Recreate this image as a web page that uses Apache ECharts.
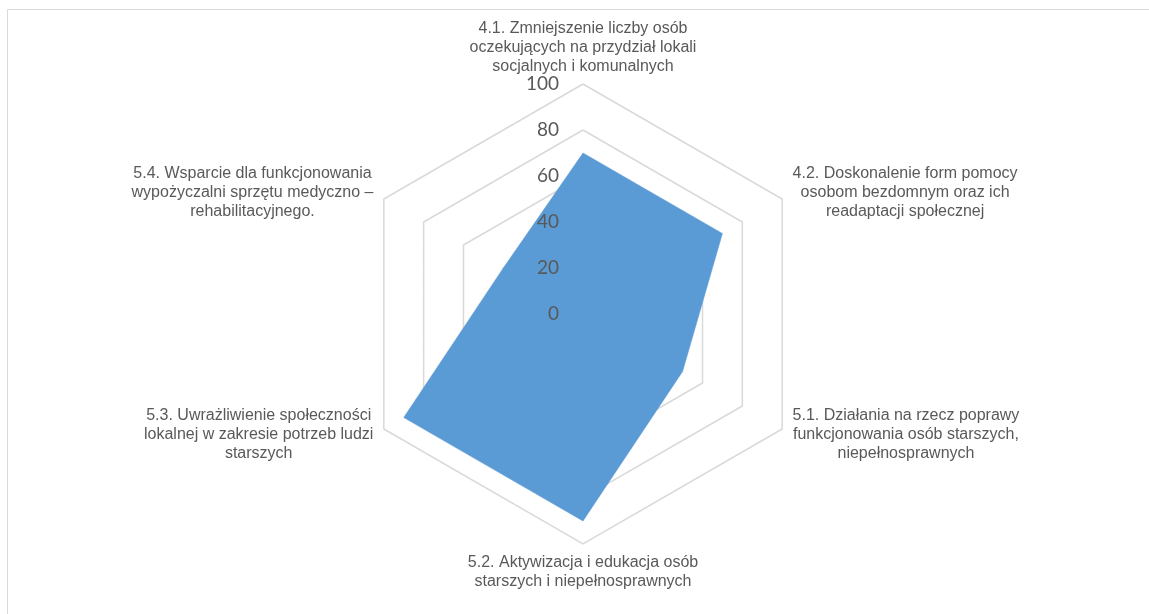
<!DOCTYPE html>
<html>
<head>
<meta charset="utf-8">
<script src="https://cdn.jsdelivr.net/npm/echarts@6/dist/echarts.min.js"></script>
<style>
  html, body { margin: 0; padding: 0; background: #fff; overflow: hidden; }
  #radar { width: 1149px; height: 614px; }
</style>
</head>
<body>
<div id="radar"></div>
<script>
// kategorie w kolejności jak w arkuszu (zgodnie z ruchem wskazówek zegara od góry)
var categories = [
  "4.1. Zmniejszenie liczby osób\noczekujących na przydział lokali\nsocjalnych i komunalnych",
  "4.2. Doskonalenie form pomocy\nosobom bezdomnym oraz ich\nreadaptacji społecznej",
  "5.1. Działania na rzecz poprawy\nfunkcjonowania osób starszych,\nniepełnosprawnych",
  "5.2. Aktywizacja i edukacja osób\nstarszych i niepełnosprawnych",
  "5.3. Uwrażliwienie społeczności\nlokalnej w zakresie potrzeb ludzi\nstarszych",
  "5.4. Wsparcie dla funkcjonowania\nwypożyczalni sprzętu medyczno –\nrehabilitacyjnego."
];
var values = [70, 70, 50, 90, 90, 40];
var axisMin = 0;
var axisMax = 100;
var axisStep = 20;

// echarts układa wskaźniki przeciwnie do wskazówek zegara
var order = [0, 5, 4, 3, 2, 1];
var nameGaps = [8, 12, 12, 9, 12, 12];

var myChart = echarts.init(document.getElementById("radar"));

var radarCenter = [583, 314];
var radarRadius = 230;

// siatka + nazwy (pod wypełnieniem)
var gridIndicator = order.map(function (i) {
  return { name: categories[i], min: axisMin, max: axisMax, nameGap: nameGaps[i] };
});

// drugi radar tylko dla etykiet 0..100 (nad wypełnieniem)
var labelIndicator = order.map(function (i, k) {
  var item = { name: "", min: axisMin, max: axisMax };
  if (k === 0) {
    item.axisLabel = {
      show: true,
      color: "#595959",
      fontSize: 19,
      fontFamily: "Lato",
      margin: 24,
    };
  }
  return item;
});

var options = {
  backgroundColor: "#fff",
  animation: false,
  graphic: [
    {
      type: "polyline",
      shape: { points: [[7.5, 620], [7.5, 9.5], [1160, 9.5]] },
      style: { fill: null, stroke: "#D9D9D9", lineWidth: 1 },
      silent: true,
    },
  ],
  radar: [
    {
      center: radarCenter,
      radius: radarRadius,
      startAngle: 90,
      shape: "polygon",
      splitNumber: (axisMax - axisMin) / axisStep,
      indicator: gridIndicator,
      axisName: {
        color: "#595959",
        fontSize: 16,
        fontFamily: "Liberation Sans",
        formatter: function (text) {
          return text
            .split("\n")
            .map(function (s) { return "{c|" + s + "}"; })
            .join("\n");
        },
        rich: {
          c: {
            align: "center",
            color: "#595959",
            fontSize: 16,
            lineHeight: 19,
            fontFamily: "Liberation Sans",
          },
        },
      },
      axisLine: { show: false },
      axisTick: { show: false },
      axisLabel: { show: false },
      splitArea: { show: false },
      splitLine: {
        show: true,
        lineStyle: { color: "#D9D9D9", width: 1.5 },
      },
    },
    {
      z: 10,
      center: radarCenter,
      radius: radarRadius,
      startAngle: 90,
      shape: "polygon",
      splitNumber: (axisMax - axisMin) / axisStep,
      indicator: labelIndicator,
      axisName: { show: false },
      axisLine: { show: false },
      axisTick: { show: false },
      axisLabel: { show: false },
      splitArea: { show: false },
      splitLine: { show: false },
    },
  ],
  series: [
    {
      type: "radar",
      radarIndex: 0,
      symbol: "none",
      data: [
        {
          value: order.map(function (i) { return values[i]; }),
          areaStyle: { color: "#5B9BD5", opacity: 1 },
          lineStyle: { color: "#5B9BD5", width: 0.5 },
        },
      ],
    },
  ],
};

myChart.setOption(options);
</script>
</body>
</html>
